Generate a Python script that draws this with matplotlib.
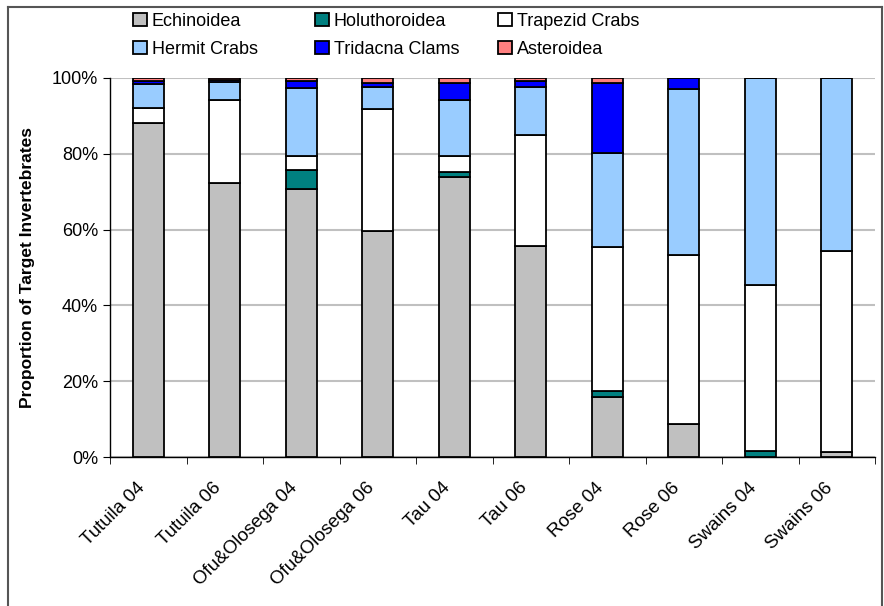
import matplotlib.pyplot as plt
from matplotlib.lines import Line2D
import numpy as np

plt.rcParams['font.family'] = ['Liberation Sans', 'DejaVu Sans']

sites = ['Tutuila 04', 'Tutuila 06', 'Ofu&Olosega 04', 'Ofu&Olosega 06', 'Tau 04',
         'Tau 06', 'Rose 04', 'Rose 06', 'Swains 04', 'Swains 06']
# percent of target invertebrates
echinoidea = [88.0, 72.2, 70.6, 59.7, 73.8, 55.8, 15.8, 8.6, 0.0, 1.2]
holuthoroidea = [0.0, 0.0, 5.1, 0.0, 1.5, 0.0, 1.5, 0.0, 1.5, 0.0]
trapezid = [4.2, 22.0, 3.8, 32.0, 4.1, 29.2, 38.2, 44.6, 44.0, 53.1]
hermit = [6.2, 4.8, 17.8, 6.0, 14.8, 12.7, 24.8, 43.8, 54.5, 45.7]
tridacna = [0.9, 0.6, 2.0, 1.1, 4.6, 1.5, 18.5, 3.0, 0.0, 0.0]
asteroidea = [0.7, 0.4, 0.7, 1.2, 1.2, 0.7, 1.2, 0.0, 0.0, 0.0]

series = [('Echinoidea', echinoidea, '#C0C0C0'),
          ('Holuthoroidea', holuthoroidea, '#008080'),
          ('Trapezid Crabs', trapezid, '#FFFFFF'),
          ('Hermit Crabs', hermit, '#99CCFF'),
          ('Tridacna Clams', tridacna, '#0000FF'),
          ('Asteroidea', asteroidea, '#FF8080')]

fig = plt.figure(figsize=(8.84, 6.06), dpi=100)
ax = fig.add_axes([110/884, 1-457/606, 765/884, 379/606])

x = np.arange(len(sites))
bottom = np.zeros(len(sites))
handles = {}
for name, vals, col in series:
    v = np.array(vals) / 100.0
    b = ax.bar(x, v, width=0.41, bottom=bottom, color=col, edgecolor='black',
               linewidth=1.3, label=name, zorder=3)
    handles[name] = b
    bottom += v

ax.set_xlim(-0.5, len(sites) - 0.5)
ax.set_ylim(0, 1)
ax.set_yticks(np.arange(0, 1.01, 0.2))
ax.set_yticklabels(['%d%%' % (t * 100) for t in np.arange(0, 1.01, 0.2)], fontsize=13)
ax.yaxis.grid(True, color='#C0C0C0', linewidth=1.5, zorder=0)
ax.set_axisbelow(True)

# labels sit a little left of the bar centre, like Excel does
ax.set_xticks(x - 0.16)
ax.set_xticklabels(sites, rotation=45, ha='right', rotation_mode='anchor', fontsize=13.5)
ax.set_xticks(np.arange(-0.5, len(sites)), minor=True)
ax.tick_params(axis='x', which='major', length=0, pad=16)
ax.tick_params(axis='x', which='minor', length=5, direction='out', color='black')
ax.tick_params(axis='y', length=5, direction='out')

for s in ['top', 'right']:
    ax.spines[s].set_visible(False)
ax.spines['left'].set_linewidth(1.0)
ax.spines['bottom'].set_linewidth(1.0)

ax.set_ylabel('Proportion of Target Invertebrates', fontsize=12.5, fontweight='bold', labelpad=12)

# legend: three fixed columns, two rows each
cols = [['Echinoidea', 'Hermit Crabs'], ['Holuthoroidea', 'Tridacna Clams'],
        ['Trapezid Crabs', 'Asteroidea']]
col_x = [133, 315, 498]
for names, cx in zip(cols, col_x):
    leg = fig.legend([handles[n] for n in names], names, loc='upper left',
                     bbox_to_anchor=(cx/884, 1-13/606), frameon=False, fontsize=13,
                     handlelength=0.75, handleheight=0.75, handletextpad=0.3,
                     labelspacing=0.6, borderpad=0, borderaxespad=0)

# chart border
bc = '#555555'
fig.add_artist(Line2D([8/884, 882/884], [1-7/606, 1-7/606], color=bc, lw=1.5))
fig.add_artist(Line2D([8/884, 8/884], [0, 1-7/606], color=bc, lw=1.5))
fig.add_artist(Line2D([882/884, 882/884], [0, 1-7/606], color=bc, lw=1.5))

fig.savefig('out.png', dpi=100)
